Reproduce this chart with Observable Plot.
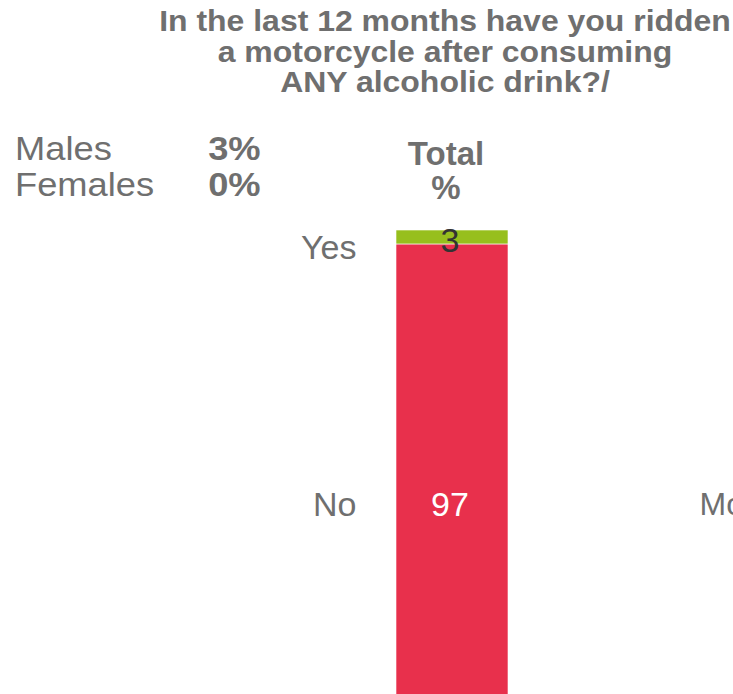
<!DOCTYPE html>
<html>
<head>
<meta charset="utf-8">
<script src="https://cdn.jsdelivr.net/npm/d3@7"></script>
<script src="https://cdn.jsdelivr.net/npm/@observablehq/plot@0.6"></script>
<style>
  html, body { margin: 0; padding: 0; background: #ffffff; }
  #wrap { position: relative; width: 733px; height: 694px; overflow: hidden; font-family: "Liberation Sans", Arial, sans-serif; color: #6f6f6f; }
  #wrap svg { position: absolute; left: 0; top: 0; }
  .abs { position: absolute; white-space: pre; }
  #title { left: 145px; width: 600px; top: 6px; text-align: center; font-weight: bold; font-size: 30px; line-height: 30.5px; transform: scaleX(1.065); transform-origin: 300px 0; }
  #groups { left: 15px; top: 131px; font-size: 33px; line-height: 36px; transform: scaleX(1.1); transform-origin: 0 0; }
  #groupvals { left: 100px; width: 146px; top: 131px; text-align: right; font-weight: bold; font-size: 33px; line-height: 36px; transform: scaleX(1.1); transform-origin: 0 0; }
  #colhead { left: 346px; width: 200px; top: 137px; text-align: center; font-weight: bold; font-size: 33px; line-height: 34px; }
</style>
</head>
<body>
<div id="wrap"></div>
<script>
// ---- data ----
const titleLines = ["In the last 12 months have you ridden", "a motorcycle after consuming", "ANY alcoholic drink?/"];
const groupNames = ["Males", "Females"];
const groupValues = ["3%", "0%"];
const columns = ["Total"];
const columnUnit = "%";
const answers = ["Yes", "No"];
const totalValues = [3, 97];
const answerColors = ["#97bf1d", "#e8304c"];
const valueTextColors = ["#333333", "#ffffff"];
const cutLabel = "Mo";

const data = answers.map((a, i) => ({column: columns[0], answer: a, value: totalValues[i]}));

const wrap = document.getElementById("wrap");

function addDiv(id, lines) {
  const d = document.createElement("div");
  d.id = id;
  d.className = "abs";
  d.textContent = lines.join("\n");
  wrap.appendChild(d);
}

const labelFont = 34;
const marks = [
  Plot.barY(data, {x: "column", y: "value", fill: "answer", reverse: true, stroke: "#ffffff", strokeWidth: 0.6})
];
// per-answer labels (row label left of bar + value inside bar)
const rowLabelDy = [10.5, 32.5];
const valueLabelDy = [3.8, 32.5];
answers.forEach((a, i) => {
  marks.push(Plot.text(data, Plot.filter(d => d.answer === a, Plot.stackY({
    x: "column", y: "value", reverse: true, text: "answer",
    textAnchor: "end", dx: -96, dy: rowLabelDy[i], fill: "#6f6f6f", fontSize: labelFont
  }))));
  marks.push(Plot.text(data, Plot.filter(d => d.answer === a, Plot.stackY({
    x: "column", y: "value", reverse: true, text: d => String(d.value),
    textAnchor: "middle", dx: -2.5, dy: valueLabelDy[i], fill: valueTextColors[i], fontSize: labelFont
  }))));
});
// cut-off label of the next (clipped) column, on the "No" row
marks.push(Plot.text(data, Plot.filter(d => d.answer === "No", Plot.stackY({
  x: "column", y: "value", reverse: true, text: () => cutLabel,
  textAnchor: "start", dx: 247, dy: 32.5, fill: "#6f6f6f", fontSize: 32
}))));

const chart = Plot.plot({
  width: 733,
  height: 694,
  margin: 0,
  x: {domain: columns, range: [396, 508], padding: 0, axis: null},
  y: {domain: [0, 100], range: [700, 230], axis: null},
  color: {domain: answers, range: answerColors},
  style: {fontFamily: "'Liberation Sans', Arial, sans-serif", background: "transparent", overflow: "hidden"},
  marks
});
wrap.appendChild(chart);

addDiv("title", titleLines);
addDiv("groups", groupNames);
addDiv("groupvals", groupValues);
addDiv("colhead", [columns[0], columnUnit]);
</script>
</body>
</html>
